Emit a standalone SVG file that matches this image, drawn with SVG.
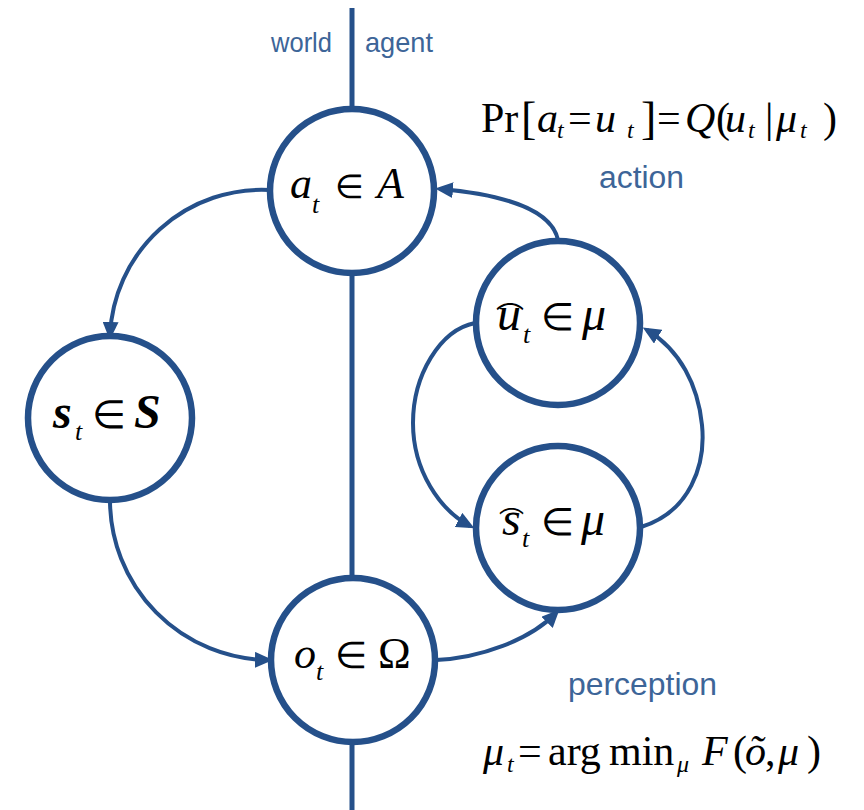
<svg xmlns="http://www.w3.org/2000/svg" width="864" height="810" viewBox="0 0 864 810">
  <defs>
    <marker id="arr" markerUnits="userSpaceOnUse" markerWidth="18" markerHeight="16" refX="13" refY="8" orient="auto">
      <path d="M0,0 L18,8 L0,16 z" fill="#25508a"/>
    </marker>
    <style>
      .node circle { fill: #ffffff; stroke: #25508a; stroke-width: 6.5; }
      .conn path { fill: none; stroke: #25508a; stroke-width: 4; marker-end: url(#arr); }
      .divider { stroke: #25508a; stroke-width: 5; }
      .lbl { font-family: "Liberation Sans", Arial, sans-serif; fill: #3d6598; }
      .m { font-family: "Liberation Serif", "Times New Roman", serif; fill: #000000; }
      .i { font-style: italic; }
      .sub { font-size: 26px; font-style: italic; font-weight: normal; }
      .fsub { font-size: 24px; font-style: italic; }
      .el { font-style: normal; font-weight: normal; }
      .hat { font-family: "Noto Sans CJK SC", "DejaVu Sans", sans-serif; fill: #000000; }
    </style>
  </defs>
  <rect width="864" height="810" fill="#ffffff"/>

  <g id="divider">
    <line class="divider" x1="352" y1="8" x2="352" y2="810"/>
  </g>

  <g id="labels">
    <text class="lbl" x="271" y="52" font-size="28" textLength="61" lengthAdjust="spacingAndGlyphs">world</text>
    <text class="lbl" x="365" y="52" font-size="28" textLength="68" lengthAdjust="spacingAndGlyphs">agent</text>
    <text class="lbl" x="599" y="188" font-size="31" textLength="85" lengthAdjust="spacingAndGlyphs">action</text>
    <text class="lbl" x="568" y="695" font-size="32" textLength="149" lengthAdjust="spacingAndGlyphs">perception</text>
  </g>

  <g id="formulas">
    <text class="m" y="132" font-size="42"><tspan x="481">Pr</tspan><tspan x="521" font-size="46" y="134">[</tspan><tspan x="537" y="132" class="i">a</tspan><tspan x="557" y="138" class="fsub">t</tspan><tspan x="568" y="132">=</tspan><tspan x="595" class="i">u</tspan><tspan x="627" y="138" class="fsub">t</tspan><tspan x="641" y="134" font-size="46">]</tspan><tspan x="657" y="132">=</tspan><tspan x="685" class="i">Q</tspan><tspan x="716">(</tspan><tspan x="725" class="i">u</tspan><tspan x="748" y="138" class="fsub">t</tspan><tspan x="765" y="132">|</tspan><tspan x="776" class="i">μ</tspan><tspan x="800" y="138" class="fsub">t</tspan><tspan x="823" y="132">)</tspan></text>
    <text class="m" y="765" font-size="42"><tspan x="483" class="i">μ</tspan><tspan x="507" y="772" class="fsub">t</tspan><tspan x="518" y="765">=</tspan><tspan x="548">arg</tspan><tspan x="609">min</tspan><tspan x="677" y="772" class="fsub">μ</tspan><tspan x="702" y="765" class="i">F</tspan><tspan x="733">(</tspan><tspan x="745" class="i">õ</tspan><tspan x="765">,</tspan><tspan x="778" class="i">μ</tspan><tspan x="807">)</tspan></text>
  </g>

  <g id="connectors" class="conn">
    <path id="c-a-s" d="M270,190 A152,152 0 0 0 110,335"/>
    <path id="c-s-o" d="M110,500 A160,160 0 0 0 268,660"/>
    <path id="c-o-sh" d="M436,660 C480,658 530,640 556,613"/>
    <path id="c-sh-uh" d="M641,527 C690,512 706,465 702,425 C698,385 680,350 647,330"/>
    <path id="c-uh-sh" d="M475,323 C440,330 413,375 413,423 C413,471 440,510 470,526"/>
    <path id="c-uh-a" d="M558,240 C552,212 510,195 440,189"/>
  </g>

  <g id="node-a" class="node">
    <circle cx="352" cy="191" r="82"/>
    <text class="m" y="198" font-size="44"><tspan x="290" class="i">a</tspan><tspan x="312" y="213" class="sub">t</tspan><tspan x="335" y="198" class="el" font-size="33">∈</tspan><tspan x="377" class="i">A</tspan></text>
  </g>

  <g id="node-s" class="node">
    <circle cx="110" cy="418" r="82"/>
    <text class="m" y="428" font-size="48" font-weight="bold"><tspan x="53" class="i">s</tspan><tspan x="75" y="440" class="sub">t</tspan><tspan x="92" y="428" class="el" font-size="39">∈</tspan><tspan x="134" class="i">S</tspan></text>
  </g>

  <g id="node-o" class="node">
    <circle cx="353" cy="660" r="82"/>
    <text class="m" y="668" font-size="44"><tspan x="294" class="i">o</tspan><tspan x="316" y="680" class="sub">t</tspan><tspan x="335" y="668" class="el" font-size="37">∈</tspan><tspan x="378">Ω</tspan></text>
  </g>

  <g id="node-uhat" class="node">
    <circle cx="558" cy="323" r="82"/>
    <text class="m" y="330" font-size="48"><tspan x="497" class="i">u</tspan><tspan x="523" y="343" class="sub">t</tspan><tspan x="541" y="330" class="el" font-size="38">∈</tspan><tspan x="582" class="i">μ</tspan></text>
    <text class="hat" x="496" y="308" font-size="28">︵</text>
  </g>

  <g id="node-shat" class="node">
    <circle cx="558" cy="528" r="82"/>
    <text class="m" y="535" font-size="48"><tspan x="502" class="i">s</tspan><tspan x="522" y="547" class="sub">t</tspan><tspan x="541" y="535" class="el" font-size="38">∈</tspan><tspan x="581" class="i">μ</tspan></text>
    <text class="hat" x="499" y="512" font-size="25">︵</text>
  </g>
</svg>
